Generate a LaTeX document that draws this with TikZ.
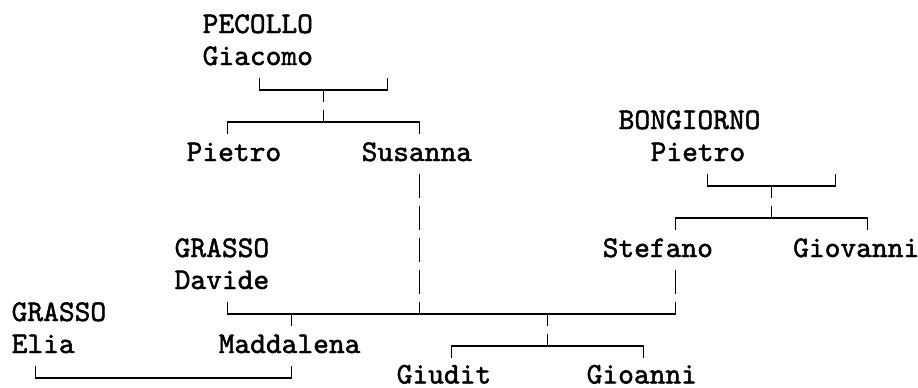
\documentclass[tikz,border=0pt]{standalone}
\usepackage{fontspec}
\newfontfamily\namefont{lmmono10-regular.otf}[FakeBold=1.6]
\begin{document}
\begin{tikzpicture}[
  x=1pt,y=-1pt,
  every node/.style={anchor=base west,inner sep=0pt,
    font=\fontsize{30}{32}\selectfont\namefont},
  link/.style={draw,line width=1.8pt},
  rowgap/.style={link,dash pattern=on 24.5pt off 7.5pt},
  midgap/.style={rowgap,dash phase=12.5pt}
]
\useasboundingbox (0,0) rectangle (918,388);
\node (pec) at (202.5,33) {PECOLLO};
\node (gia) at (202.5,65) {Giacomo};
\node (pie) at (186.5,161) {Pietro};
\node (sus) at (361.5,161) {Susanna};
\node (bon) at (618.5,129) {BONGIORNO};
\node (pib) at (650.5,161) {Pietro};
\node (ste) at (602.5,257) {Stefano};
\node (gio) at (793,257) {Giovanni};
\node (grd) at (174.5,257) {GRASSO};
\node (dav) at (174.5,289) {Davide};
\node (gre) at (11.5,321) {GRASSO};
\node (eli) at (11.5,353) {Elia};
\node (mad) at (218.5,353) {Maddalena};
\node (giu) at (396.5,383.5) {Giudit};
\node (goa) at (586.5,383.5) {Gioanni};

\coordinate (c1a) at (259.5,77.5);
\coordinate (c1b) at (387.5,77.5);
\coordinate (c1m) at (323.5,90);
\coordinate (c1n) at (323.5,122);
\coordinate (c1l) at (227.5,134);
\coordinate (c1r) at (419.5,134);
\draw[link] (c1a) |- (c1m) -| (c1b);
\draw[midgap] (c1m) -- (c1n);
\draw[link] (c1l) |- (c1n) -| (c1r);

\coordinate (c2a) at (707.5,173.5);
\coordinate (c2b) at (835.5,173.5);
\coordinate (c2m) at (771.5,186);
\coordinate (c2n) at (771.5,218);
\coordinate (c2l) at (675.5,230);
\coordinate (c2r) at (867.5,230);
\draw[link] (c2a) |- (c2m) -| (c2b);
\draw[midgap] (c2m) -- (c2n);
\draw[link] (c2l) |- (c2n) -| (c2r);

\coordinate (c3a) at (227.5,301.5);
\coordinate (c3s) at (419.5,173.5);
\coordinate (c3t) at (675.5,269.5);
\coordinate (c3u) at (675.5,301.5);
\coordinate (c3m) at (547.5,314);
\coordinate (c3n) at (547.5,346);
\coordinate (c3d) at (291.5,326);
\coordinate (c3l) at (451.5,358);
\coordinate (c3r) at (643.5,358);
\draw[link] (c3a) |- (c3m) -| (c3u);
\draw[rowgap] (c3s) -- (c3s |- c3m);
\draw[rowgap] (c3t) -- (c3u);
\draw[link] (c3d |- c3m) -- (c3d);
\draw[midgap] (c3m) -- (c3n);
\draw[link] (c3l) |- (c3n) -| (c3r);

\coordinate (c4a) at (35.5,365.5);
\coordinate (c4b) at (291.5,365.5);
\draw[link] (c4a) -- ++(0,12.5) -| (c4b);
\end{tikzpicture}
\end{document}
